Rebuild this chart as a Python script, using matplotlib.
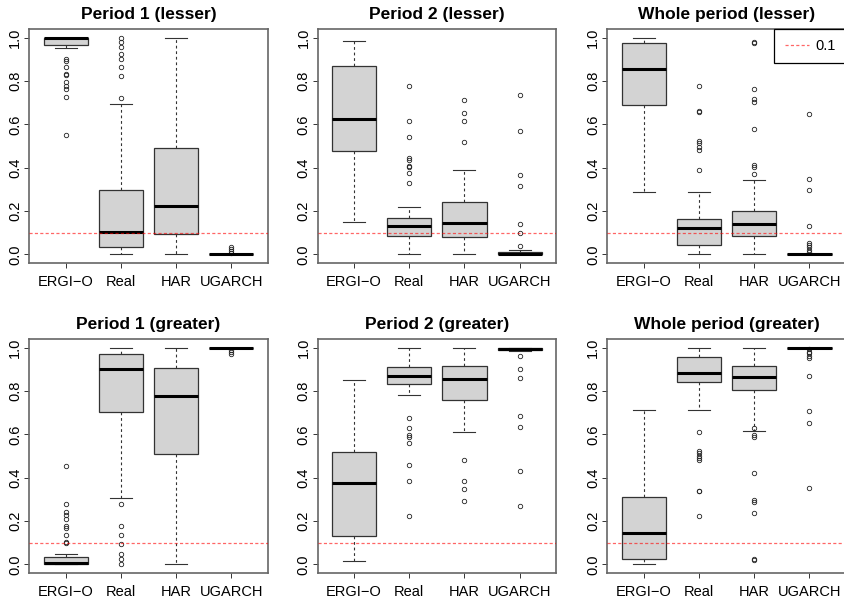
import matplotlib
matplotlib.use('Agg')
import matplotlib.pyplot as plt

plt.rcParams['font.family'] = ['Liberation Sans', 'DejaVu Sans']

models = ['ERGI\u2212O', 'Real', 'HAR', 'UGARCH']
titles = ['Period 1 (lesser)', 'Period 2 (lesser)', 'Whole period (lesser)',
          'Period 1 (greater)', 'Period 2 (greater)', 'Whole period (greater)']

# five-number summaries per model: [whisker low, q1, median, q3, whisker high]
p1_lesser = [[0.951, 0.966, 0.997, 1.0, 1.0],
             [0.0, 0.032, 0.102, 0.297, 0.692],
             [0.0, 0.094, 0.223, 0.489, 1.0],
             [0.0, 0.0, 0.0, 0.0, 0.0]]
p1_lesser_out = [[0.9, 0.892, 0.866, 0.832, 0.826, 0.797, 0.777, 0.763, 0.725, 0.549],
                 [1.0, 0.978, 0.955, 0.926, 0.903, 0.866, 0.823, 0.723],
                 [],
                 [0.032, 0.023, 0.014, 0.005]]

p2_lesser = [[0.149, 0.478, 0.625, 0.871, 0.986],
             [0.0, 0.086, 0.129, 0.166, 0.218],
             [0.0, 0.078, 0.146, 0.243, 0.39],
             [0.0, 0.0, 0.002, 0.009, 0.02]]
p2_lesser_out = [[],
                 [0.778, 0.617, 0.541, 0.443, 0.435, 0.408, 0.404, 0.374, 0.328],
                 [0.711, 0.654, 0.617, 0.518],
                 [0.735, 0.569, 0.367, 0.317, 0.141, 0.1, 0.04]]

wh_lesser = [[0.286, 0.688, 0.854, 0.977, 1.0],
             [0.0, 0.041, 0.121, 0.161, 0.29],
             [0.0, 0.083, 0.14, 0.198, 0.341],
             [0.0, 0.0, 0.0, 0.0, 0.0]]
wh_lesser_out = [[],
                 [0.775, 0.663, 0.659, 0.524, 0.512, 0.497, 0.481, 0.39],
                 [0.98, 0.975, 0.763, 0.717, 0.704, 0.58, 0.414, 0.404, 0.372],
                 [0.649, 0.347, 0.295, 0.129, 0.052, 0.043, 0.032, 0.022, 0.01]]

p1_greater = [[0.0, 0.0, 0.006, 0.035, 0.047],
              [0.306, 0.701, 0.9, 0.969, 1.0],
              [0.0, 0.509, 0.778, 0.904, 1.0],
              [1.0, 1.0, 1.0, 1.0, 1.0]]
p1_greater_out = [[0.452, 0.277, 0.243, 0.228, 0.208, 0.175, 0.17, 0.135, 0.102, 0.097],
                  [0.28, 0.178, 0.135, 0.095, 0.046, 0.026, 0.003],
                  [],
                  [0.99, 0.982, 0.97]]

p2_greater = [[0.014, 0.131, 0.377, 0.52, 0.85],
              [0.781, 0.832, 0.87, 0.912, 1.0],
              [0.609, 0.758, 0.857, 0.917, 1.0],
              [0.984, 0.991, 0.996, 1.0, 1.0]]
p2_greater_out = [[],
                  [0.674, 0.628, 0.598, 0.59, 0.558, 0.46, 0.384, 0.224],
                  [0.481, 0.384, 0.346, 0.291],
                  [0.961, 0.9, 0.86, 0.685, 0.636, 0.433, 0.267]]

wh_greater = [[0.0, 0.023, 0.146, 0.312, 0.714],
              [0.711, 0.842, 0.882, 0.957, 1.0],
              [0.615, 0.805, 0.863, 0.917, 1.0],
              [1.0, 1.0, 1.0, 1.0, 1.0]]
wh_greater_out = [[],
                  [0.611, 0.523, 0.512, 0.502, 0.491, 0.48, 0.34, 0.337, 0.225],
                  [0.629, 0.597, 0.589, 0.422, 0.298, 0.288, 0.238, 0.025, 0.018],
                  [0.992, 0.982, 0.974, 0.963, 0.951, 0.871, 0.706, 0.654, 0.354]]

threshold = 0.1
yticks = [0.0, 0.2, 0.4, 0.6, 0.8, 1.0]

panels = [(p1_lesser, p1_lesser_out), (p2_lesser, p2_lesser_out), (wh_lesser, wh_lesser_out),
          (p1_greater, p1_greater_out), (p2_greater, p2_greater_out), (wh_greater, wh_greater_out)]

W, H = 845., 600.
fig = plt.figure(figsize=(W / 100, H / 100), dpi=100)
lefts = [29.3, 317.6, 607.4]
bottoms = [263., 573.]
aw, ah = 238.5, 234.

for k, (summ, outs) in enumerate(panels):
    row, col = divmod(k, 3)
    ax = fig.add_axes([lefts[col] / W, (H - bottoms[row]) / H, aw / W, ah / H])
    stats = []
    for name, s, o in zip(models, summ, outs):
        stats.append(dict(label=name, whislo=s[0], q1=s[1], med=s[2], q3=s[3],
                          whishi=s[4], fliers=o))
    ax.bxp(stats, widths=0.8, capwidths=0.4, patch_artist=True,
           boxprops=dict(facecolor='#d3d3d3', edgecolor='#333333', linewidth=0.9),
           medianprops=dict(color='black', linewidth=2.2, solid_capstyle='butt'),
           whiskerprops=dict(color='#333333', linewidth=0.8, linestyle=(0, (2.5, 2.5))),
           capprops=dict(color='#333333', linewidth=0.8),
           flierprops=dict(marker='o', markersize=3.2, markerfacecolor='none',
                           markeredgecolor='#222222', markeredgewidth=0.6))
    ln, = ax.plot([0.34, 4.66], [threshold, threshold], color='#ff0000', alpha=0.6,
                  linewidth=0.9, linestyle=(0, (2.5, 1.8)), label='0.1', zorder=3)
    ax.set_xlim(0.34, 4.66)
    ax.set_ylim(-0.04, 1.04)
    ax.set_yticks(yticks)
    ax.set_yticklabels(['%.1f' % v for v in yticks], rotation=90, va='center')
    ax.tick_params(axis='both', labelsize=10.5, length=3.6, width=0.7, color='#333333')
    ax.tick_params(axis='y', pad=1.5)
    ax.tick_params(axis='x', pad=5)
    for sp in ax.spines.values():
        sp.set_color('#666666')
        sp.set_linewidth(1.2)
    ax.set_title(titles[k], fontsize=12.5, fontweight='bold', pad=7.5)
    if k == 2:
        leg = ax.legend(handles=[ln], loc='upper right', bbox_to_anchor=(1.0, 1.0),
                        borderaxespad=0, fancybox=False, edgecolor='black', framealpha=1,
                        fontsize=10.5, handlelength=1.65, borderpad=0.7,
                        handletextpad=0.45)
        leg.get_frame().set_linewidth(0.9)

fig.savefig('out.png', dpi=100)
